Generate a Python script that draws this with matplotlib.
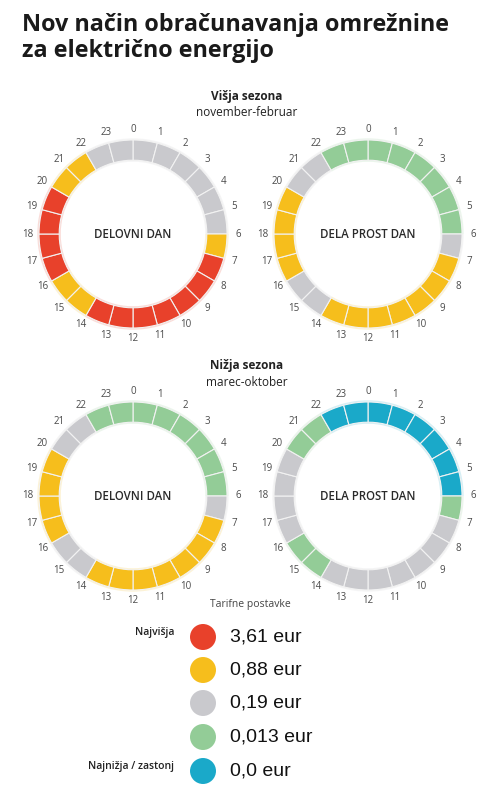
import numpy as np
import matplotlib
matplotlib.use("Agg")
import matplotlib.pyplot as plt

# tariff colours (legend order)
tariff_values = ["3,61 eur", "0,88 eur", "0,19 eur", "0,013 eur", "0,0 eur"]
tariff_colors = ["#E8412B", "#F6BE1C", "#C9C9CD", "#93CC97", "#1AA9C9"]
tariff_side = ["Najvišja", "", "", "", "Najnižja / zastonj"]

hours = list(range(24))

# tariff block (index into tariff_colors) for each hour 0..23
visja_delovni = [2, 2, 2, 2, 2, 2, 1, 0, 0, 0, 0, 0, 0, 0, 1, 1, 0, 0, 0, 0, 1, 1, 2, 2]
visja_prost = [3, 3, 3, 3, 3, 3, 2, 1, 1, 1, 1, 1, 1, 1, 2, 2, 1, 1, 1, 1, 2, 2, 3, 3]
nizja_delovni = [3, 3, 3, 3, 3, 3, 2, 1, 1, 1, 1, 1, 1, 1, 2, 2, 1, 1, 1, 1, 2, 2, 3, 3]
nizja_prost = [4, 4, 4, 4, 4, 4, 3, 2, 2, 2, 2, 2, 2, 2, 3, 3, 2, 2, 2, 2, 3, 3, 4, 4]

charts = [
    (visja_delovni, "DELOVNI DAN", 133, 234),
    (visja_prost, "DELA PROST DAN", 368, 234),
    (nizja_delovni, "DELOVNI DAN", 133, 496),
    (nizja_prost, "DELA PROST DAN", 368, 496),
]

W, H = 503, 789
fig = plt.figure(figsize=(W / 100, H / 100), dpi=100)
fig.patch.set_facecolor("white")

R_PX = 94.0   # outer radius in pixels
HALF = 125.0  # half size of each donut axes in pixels
lim = HALF / R_PX

for blocks, name, cx, cy in charts:
    ax = fig.add_axes([(cx - HALF) / W, 1 - (cy + HALF) / H, 2 * HALF / W, 2 * HALF / H])
    cols = [tariff_colors[b] for b in blocks]
    # soft glow behind the ring
    ax.pie(np.ones(len(hours)), colors=cols, startangle=90, counterclock=False,
           radius=1.018, wedgeprops=dict(width=0.25, linewidth=0, alpha=0.18))
    ax.pie(np.ones(len(hours)), colors=cols, startangle=90, counterclock=False,
           radius=1.0, wedgeprops=dict(width=0.215, edgecolor="#f2f2f2", linewidth=0.8))
    for h in hours:
        ang = np.deg2rad(90 - 15 * h)
        r = 1.115
        ax.text(r * np.cos(ang), r * np.sin(ang), str(h), ha="center", va="center",
                fontsize=7, color="#4a4a4a", family="Open Sans")
    ax.text(0, 0, name, ha="center", va="center", fontsize=8.3, fontweight="semibold",
            color="#2a2a2a", family="Open Sans")
    ax.set_xlim(-lim, lim)
    ax.set_ylim(-lim, lim)
    ax.set_aspect("equal")
    ax.axis("off")

# overlay in pixel coordinates for texts and legend
ov = fig.add_axes([0, 0, 1, 1], zorder=-1)
ov.set_xlim(0, W)
ov.set_ylim(H, 0)
ov.axis("off")

ov.text(22, 25, "Nov način obračunavanja omrežnine", fontsize=16.8, fontweight="bold",
        family="Open Sans", color="#1a1a1a", va="center", ha="left")
ov.text(22, 51, "za električno energijo", fontsize=16.8, fontweight="bold",
        family="Open Sans", color="#1a1a1a", va="center", ha="left")

ov.text(247, 96, "Višja sezona", fontsize=8.5, fontweight="bold", family="Open Sans",
        color="#222222", ha="center", va="center")
ov.text(247, 112, "november-februar", fontsize=8.5, family="Open Sans",
        color="#222222", ha="center", va="center")
ov.text(247, 365, "Nižja sezona", fontsize=8.5, fontweight="bold", family="Open Sans",
        color="#222222", ha="center", va="center")
ov.text(247, 382, "marec-oktober", fontsize=8.5, family="Open Sans",
        color="#222222", ha="center", va="center")

ov.text(250, 604, "Tarifne postavke", fontsize=7.5, family="Open Sans",
        color="#444444", ha="center", va="center")

leg_y = [637, 670, 703, 737, 771]
ov.scatter([203] * len(tariff_colors), leg_y, s=350, c=tariff_colors, edgecolors="none")
for y, val, side in zip(leg_y, tariff_values, tariff_side):
    ov.text(230, y, val, fontsize=14, family="Liberation Sans", color="#111111",
            ha="left", va="center")
    if side:
        ov.text(174, y - 4, side, fontsize=7.5, fontweight="semibold", family="Open Sans",
                color="#222222", ha="right", va="center")

fig.savefig("out.png", dpi=100, facecolor="white")
